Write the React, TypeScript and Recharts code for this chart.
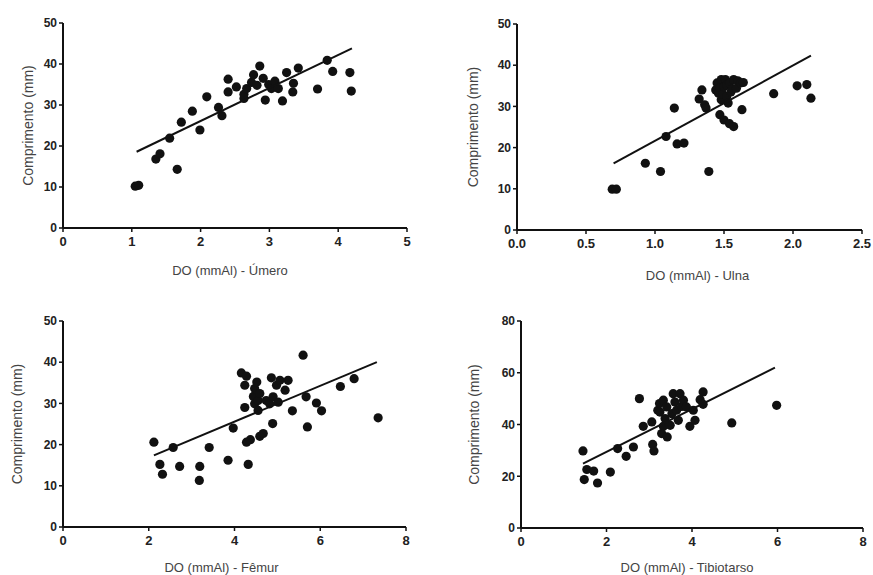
import React from "react";
import { ScatterChart, Scatter, XAxis, YAxis, Label } from "recharts";

// Úmero
const umeroX = [1.05, 1.1, 1.35, 1.41, 1.55, 1.66, 1.72, 1.88, 1.99, 2.09, 2.26, 2.31, 2.4, 2.4, 2.52, 2.63, 2.63, 2.67, 2.74, 2.77, 2.82, 2.86, 2.91, 2.94, 2.99, 3.03, 3.08, 3.13, 3.19, 3.25, 3.34, 3.35, 3.42, 3.7, 3.84, 3.92, 4.17, 4.19];
const umeroY = [10.2, 10.4, 16.8, 18.1, 21.9, 14.3, 25.8, 28.5, 23.9, 32.0, 29.4, 27.4, 36.3, 33.2, 34.4, 31.6, 32.6, 34.0, 35.5, 37.4, 34.8, 39.5, 36.5, 31.2, 35.0, 34.0, 35.8, 34.0, 31.0, 37.9, 33.2, 35.3, 39.0, 33.9, 40.9, 38.2, 37.9, 33.4];
const umeroFitX = [1.07, 4.2];
const umeroFitY = [18.6, 43.8];

// Ulna
const ulnaX = [0.69, 0.72, 0.93, 1.04, 1.08, 1.14, 1.16, 1.21, 1.32, 1.34, 1.36, 1.37, 1.39, 1.44, 1.45, 1.46, 1.47, 1.47, 1.48, 1.48, 1.49, 1.5, 1.5, 1.51, 1.52, 1.52, 1.53, 1.54, 1.54, 1.55, 1.56, 1.57, 1.57, 1.59, 1.6, 1.62, 1.63, 1.64, 1.86, 2.03, 2.1, 2.13];
const ulnaY = [9.9, 9.9, 16.2, 14.2, 22.7, 29.6, 20.9, 21.1, 31.8, 34.0, 30.4, 29.6, 14.2, 34.0, 35.7, 33.2, 28.0, 34.5, 36.5, 31.6, 33.0, 34.8, 26.7, 36.5, 32.4, 35.2, 30.8, 35.7, 25.8, 33.5, 34.2, 36.5, 25.1, 34.4, 36.2, 35.7, 29.2, 35.8, 33.1, 35.0, 35.3, 32.0];
const ulnaFitX = [0.7, 2.13];
const ulnaFitY = [16.2, 42.3];

// Fêmur
const femurX = [2.12, 2.26, 2.32, 2.57, 2.72, 3.18, 3.19, 3.41, 3.85, 3.97, 4.16, 4.24, 4.24, 4.28, 4.28, 4.32, 4.37, 4.44, 4.47, 4.47, 4.52, 4.55, 4.55, 4.59, 4.59, 4.67, 4.74, 4.82, 4.86, 4.89, 4.9, 4.98, 5.02, 5.06, 5.18, 5.25, 5.35, 5.6, 5.67, 5.7, 5.91, 6.03, 6.47, 6.79, 7.35];
const femurY = [20.6, 15.2, 12.8, 19.3, 14.7, 11.3, 14.7, 19.3, 16.2, 24.0, 37.4, 34.4, 29.0, 36.6, 20.6, 15.2, 21.2, 31.7, 33.6, 29.9, 35.2, 30.7, 28.3, 32.4, 22.0, 22.7, 30.7, 29.9, 36.2, 25.1, 31.6, 34.4, 30.3, 35.6, 33.2, 35.6, 28.2, 41.7, 31.6, 24.3, 30.1, 28.2, 34.1, 36.0, 26.5];
const femurFitX = [2.12, 7.32];
const femurFitY = [17.4, 40.0];

// Tibiotarso
const tibioX = [1.45, 1.48, 1.54, 1.7, 1.79, 2.09, 2.26, 2.46, 2.63, 2.77, 2.86, 3.06, 3.08, 3.11, 3.2, 3.24, 3.25, 3.29, 3.33, 3.33, 3.37, 3.41, 3.42, 3.49, 3.53, 3.56, 3.6, 3.64, 3.68, 3.72, 3.76, 3.8, 3.87, 3.95, 4.03, 4.07, 4.19, 4.26, 4.26, 4.93, 5.98];
const tibioY = [29.8, 18.7, 22.6, 22.0, 17.4, 21.6, 30.7, 27.7, 31.3, 50.0, 39.3, 41.0, 32.3, 29.8, 45.5, 48.1, 44.8, 36.5, 39.3, 49.4, 42.3, 46.8, 35.2, 39.7, 44.2, 51.9, 48.7, 45.5, 41.6, 51.9, 47.0, 49.4, 46.8, 39.3, 45.5, 41.6, 49.6, 52.6, 47.8, 40.6, 47.4];
const tibioFitX = [1.45, 5.94];
const tibioFitY = [24.9, 62.0];

const zip = (xs: number[], ys: number[]) => xs.map((x, i) => ({ x, y: ys[i] }));

const ink = "#111";
const tickStyle = { fill: "#222", fontSize: 12, fontWeight: 700, fontFamily: "Liberation Sans, Arial, sans-serif" };
const titleFont = "Liberation Sans, Arial, sans-serif";

const Dot = (props: any) => <circle cx={props.cx} cy={props.cy} r={4.6} fill={ink} />;

function Panel(p: any) {
  return (
    <div style={{ position: "absolute", left: p.left, top: p.top }}>
      <ScatterChart
        width={p.width}
        height={p.height}
        margin={{ top: p.mTop, right: p.mRight, bottom: 0, left: 0 }}
      >
        <XAxis
          type="number"
          dataKey="x"
          domain={p.xDomain}
          ticks={p.xTicks}
          height={p.xAxisHeight}
          tickFormatter={p.xFormat}
          axisLine={{ stroke: ink, strokeWidth: 2 }}
          tickLine={{ stroke: ink, strokeWidth: 1.5 }}
          tickSize={4}
          tickMargin={5}
          tick={{ ...tickStyle, fontSize: 13 }}
        >
          <Label
            content={(lp: any) => {
              const vb = lp.viewBox;
              return (
                <text
                  x={vb.x + vb.width / 2 + p.xdx}
                  y={vb.y + p.xGap}
                  textAnchor="middle"
                  dominantBaseline="central"
                  fontSize={13}
                  fontFamily={titleFont}
                  fill="#444"
                >
                  {p.xTitle}
                </text>
              );
            }}
          />
        </XAxis>
        <YAxis
          type="number"
          dataKey="y"
          domain={p.yDomain}
          ticks={p.yTicks}
          width={p.yAxisWidth}
          axisLine={{ stroke: ink, strokeWidth: 2 }}
          tickLine={{ stroke: ink, strokeWidth: 1.5 }}
          tickSize={4}
          tickMargin={2}
          tick={tickStyle}
        >
          <Label
            content={(lp: any) => {
              const vb = lp.viewBox;
              const cx = vb.x + vb.width - p.yGap;
              const cy = vb.y + vb.height / 2;
              return (
                <text
                  x={cx}
                  y={cy}
                  transform={`rotate(-90 ${cx} ${cy})`}
                  textAnchor="middle"
                  dominantBaseline="central"
                  fontSize={14}
                  fontFamily={titleFont}
                  fill="#444"
                >
                  Comprimento (mm)
                </text>
              );
            }}
          />
        </YAxis>
        <Scatter data={p.points} shape={Dot} isAnimationActive={false} />
        <Scatter
          data={p.fit}
          line={{ stroke: ink, strokeWidth: 2 }}
          shape={() => <g />}
          isAnimationActive={false}
        />
      </ScatterChart>
    </div>
  );
}

export default function App() {
  return (
    <div style={{ position: "absolute", left: 0, top: 0, width: 873, height: 575, background: "#fff" }}>
      <Panel
        left={0} top={0} width={430} height={290} mTop={23} mRight={23}
        yAxisWidth={63} xAxisHeight={62} yGap={35} xGap={42} xdx={-5}
        xDomain={[0, 5]} xTicks={[0, 1, 2, 3, 4, 5]} yDomain={[0, 50]} yTicks={[0, 10, 20, 30, 40, 50]}
        points={zip(umeroX, umeroY)} fit={zip(umeroFitX, umeroFitY)}
        xTitle="DO (mmAl) - Úmero"
      />
      <Panel
        left={430} top={0} width={443} height={290} mTop={24} mRight={11}
        yAxisWidth={87} xAxisHeight={60} yGap={44} xGap={45} xdx={8}
        xDomain={[0, 2.5]} xTicks={[0, 0.5, 1, 1.5, 2, 2.5]} xFormat={(v: number) => v.toFixed(1)}
        yDomain={[0, 50]} yTicks={[0, 10, 20, 30, 40, 50]}
        points={zip(ulnaX, ulnaY)} fit={zip(ulnaFitX, ulnaFitY)}
        xTitle="DO (mmAl) - Ulna"
      />
      <Panel
        left={0} top={290} width={430} height={285} mTop={31} mRight={24}
        yAxisWidth={63} xAxisHeight={48} yGap={46} xGap={40} xdx={-13}
        xDomain={[0, 8]} xTicks={[0, 2, 4, 6, 8]} yDomain={[0, 50]} yTicks={[0, 10, 20, 30, 40, 50]}
        points={zip(femurX, femurY)} fit={zip(femurFitX, femurFitY)}
        xTitle="DO (mmAl) - Fêmur"
      />
      <Panel
        left={430} top={290} width={443} height={285} mTop={31} mRight={10}
        yAxisWidth={91} xAxisHeight={47} yGap={47} xGap={39} xdx={-5}
        xDomain={[0, 8]} xTicks={[0, 2, 4, 6, 8]} yDomain={[0, 80]} yTicks={[0, 20, 40, 60, 80]}
        points={zip(tibioX, tibioY)} fit={zip(tibioFitX, tibioFitY)}
        xTitle="DO (mmAl) - Tibiotarso"
      />
    </div>
  );
}
